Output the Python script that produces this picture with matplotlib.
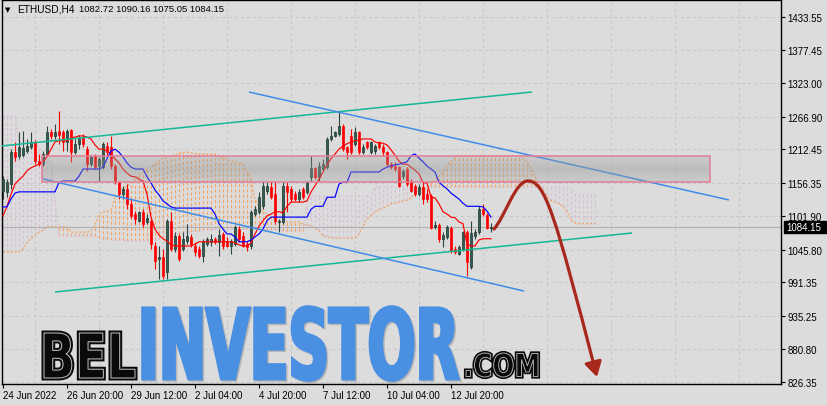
import numpy as np
import matplotlib
matplotlib.use('Agg')
import matplotlib.pyplot as plt
from matplotlib.path import Path
from matplotlib.patches import PathPatch, FancyArrowPatch, Rectangle
from matplotlib.textpath import TextPath
from matplotlib.font_manager import FontProperties
from matplotlib.transforms import Affine2D, IdentityTransform

# ---------------- data ----------------
symbol_header = "ETHUSD,H4"
header_ohlc = "1082.72 1090.16 1075.05 1084.15"
last_price = 1084.15

opens = [1143,1142,1155,1208,1202,1203,1210,1217,1225,1193,
         1188,1205,1242,1235,1243,1242,1225,1245,1208,1222,
         1232,1213,1188,1202,1185,1183,1218,1217,1185,1158,
         1138,1147,1122,1105,1094,1109,1092,1094,1052,1030,
         1034,1009,1094,1047,1069,1047,1060,1067,1052,1047,
         1035,1055,1059,1064,1059,1072,1060,1052,1055,1080,
         1069,1055,1052,1105,1109,1118,1143,1150,1138,1092,
         1092,1152,1147,1138,1130,1147,1142,1167,1182,1167,
         1180,1183,1230,1235,1238,1252,1217,1235,1222,1242,
         1208,1225,1208,1210,1225,1217,1208,1188,1185,1183,
         1168,1180,1160,1152,1138,1150,1138,1135,1084,1087,
         1064,1067,1082,1047,1039,1047,1075,1017,1069,1075,
         1113,1104,1082.72]
highs = [1168,1163,1213,1225,1242,1243,1230,1242,1228,1205,
         1210,1252,1247,1255,1276,1245,1247,1247,1230,1237,
         1238,1218,1203,1205,1200,1225,1225,1235,1188,1160,
         1152,1155,1130,1110,1110,1113,1105,1097,1059,1052,
         1047,1097,1109,1075,1072,1075,1089,1072,1059,1052,
         1064,1067,1072,1067,1080,1075,1067,1064,1087,1085,
         1075,1060,1112,1118,1142,1160,1158,1160,1160,1097,
         1158,1158,1152,1143,1147,1150,1160,1202,1183,1192,
         1197,1233,1252,1243,1275,1255,1218,1247,1250,1243,
         1222,1227,1227,1222,1227,1222,1210,1192,1192,1185,
         1180,1183,1163,1155,1155,1160,1147,1138,1094,1090,
         1075,1087,1085,1052,1054,1077,1079,1094,1080,1118,
         1122,1107,1090.16]
lows = [1130,1133,1147,1193,1197,1200,1207,1213,1188,1185,
        1185,1202,1230,1230,1222,1210,1210,1192,1205,1213,
        1217,1177,1185,1180,1160,1180,1202,1180,1155,1130,
        1130,1113,1099,1089,1092,1084,1089,1047,1014,997,
        997,997,1044,1042,1027,1044,1055,1050,1035,1032,
        1025,1052,1052,1055,1035,1047,1050,1039,1052,1059,
        1050,1044,1047,1102,1105,1113,1138,1130,1089,1075,
        1089,1109,1125,1127,1125,1130,1138,1160,1163,1160,
        1177,1180,1227,1233,1235,1210,1197,1205,1218,1205,
        1205,1213,1205,1205,1213,1202,1185,1180,1177,1150,
        1163,1152,1142,1135,1135,1122,1125,1080,1080,1059,
        1050,1064,1040,1039,1037,1044,1002,1014,1064,1072,
        1102,1080,1075.05]
closes = [1163,1158,1208,1200,1217,1215,1218,1225,1193,1188,
          1205,1242,1235,1242,1237,1225,1243,1208,1222,1232,
          1222,1188,1200,1183,1197,1222,1208,1185,1158,1138,
          1147,1122,1102,1097,1109,1089,1099,1055,1027,1034,
          1002,1094,1047,1069,1030,1064,1069,1055,1042,1035,
          1059,1064,1064,1059,1070,1052,1052,1060,1084,1064,
          1052,1050,1109,1113,1133,1152,1152,1133,1094,1094,
          1152,1142,1130,1130,1142,1133,1158,1182,1167,1185,
          1188,1230,1235,1242,1252,1213,1208,1208,1242,1208,
          1217,1217,1225,1218,1217,1208,1188,1183,1180,1152,
          1177,1155,1143,1138,1150,1130,1130,1082,1087,1064,
          1070,1084,1044,1042,1050,1075,1025,1074,1075,1113,
          1105,1082,1084.15]

tenkan = [1102,1118,1138,1155,1162,1168,1177,1182,1185,1188,
          1192,1200,1213,1225,1227,1227,1227,1232,1233,1235,
          1235,1233,1230,1220,1213,1213,1210,1205,1197,1190,
          1180,1173,1168,1167,1163,1160,1138,1100,1080,1070,
          1064,1060,1054,1052,1052,1052,1052,1052,1055,1059,
          1059,1059,1059,1059,1059,1059,1059,1059,1057,1054,
          1052,1052,1057,1072,1085,1094,1102,1105,1109,1109,
          1107,1118,1125,1125,1125,1125,1127,1142,1152,1163,
          1175,1187,1197,1205,1213,1218,1222,1225,1227,1228,
          1230,1230,1230,1225,1223,1223,1220,1212,1203,1193,
          1188,1188,1183,1178,1172,1157,1157,1133,1132,1122,
          1109,1105,1100,1099,1092,1089,1055,1052,1052,1062,
          1064,1064,1064]
kijun = [1117,1117,1130,1140,1142,1142,1142,1142,1142,1142,
         1142,1142,1142,1142,1158,1160,1160,1160,1160,1168,
         1180,1180,1180,1180,1180,1183,1197,1210,1213,1208,
         1200,1190,1183,1180,1180,1180,1167,1157,1145,1137,
         1127,1122,1117,1115,1115,1115,1115,1115,1115,1115,
         1115,1115,1115,1105,1089,1080,1072,1072,1067,1059,
         1059,1059,1062,1067,1072,1080,1094,1100,1100,1100,
         1100,1100,1100,1100,1100,1100,1100,1113,1118,1118,
         1118,1133,1133,1133,1155,1158,1158,1175,1175,1175,
         1175,1175,1175,1175,1175,1180,1183,1185,1187,1188,
         1190,1192,1202,1205,1198,1192,1185,1180,1175,1158,
         1152,1147,1140,1135,1130,1123,1118,1118,1118,1118,
         1117,1110,1100]
senkou_a = [1042,1042,1042,1042,1042,1047,1057,1065,1070,1075,
            1079,1084,1084,1084,1084,1084,1084,1075,1075,1075,
            1075,1075,1077,1087,1104,1109,1109,1112,1132,1138,
            1147,1152,1158,1163,1170,1175,1180,1183,1188,1193,
            1197,1198,1202,1203,1207,1208,1208,1207,1205,1205,
            1205,1205,1205,1205,1202,1198,1197,1193,1192,1190,
            1188,1177,1163,1130,1118,1109,1105,1102,1099,1094,
            1092,1092,1092,1092,1092,1089,1087,1085,1082,1077,
            1069,1067,1065,1065,1065,1065,1065,1065,1065,1072,
            1084,1097,1102,1109,1112,1115,1118,1122,1123,1125,
            1127,1128,1132,1138,1145,1147,1147,1155,1162,1168,
            1175,1185,1193,1198,1202,1202,1202,1202,1202,1202,
            1202,1202,1202,1202,1202,1202,1202,1202,1202,1202,
            1197,1192,1180,1168,1155,1145,1135,1127,1125,1122,
            1118,1109,1095,1090,1089,1089,1089,1089,1089]
senkou_b = [1268,1268,1268,1268,1225,1225,1225,1225,1225,1213,
            1197,1195,1193,1130,1069,1069,1069,1069,1069,1069,
            1069,1069,1069,1069,1065,1064,1064,1062,1062,1062,
            1062,1060,1060,1060,1060,1060,1060,1060,1062,1064,
            1065,1067,1069,1070,1072,1074,1075,1075,1077,1077,
            1079,1079,1079,1080,1080,1080,1080,1080,1080,1080,
            1080,1080,1080,1080,1080,1079,1079,1079,1079,1079,
            1077,1077,1077,1077,1077,1077,1122,1135,1135,1135,
            1135,1135,1135,1135,1135,1135,1135,1135,1135,1135,
            1135,1135,1135,1150,1150,1150,1150,1150,1150,1150,
            1150,1150,1150,1150,1150,1150,1150,1150,1150,1150,
            1150,1150,1150,1150,1150,1150,1150,1150,1150,1150,
            1150,1150,1150,1150,1150,1150,1150,1150,1150,1150,
            1150,1150,1150,1150,1150,1150,1150,1150,1150,1150,
            1150,1150,1147,1138,1138,1138,1138,1138,1138]

xtick_pos = [0, 16, 32, 48, 64, 80, 96, 112]
xtick_labels = ["24 Jun 2022", "26 Jun 20:00", "29 Jun 12:00", "2 Jul 04:00",
                "4 Jul 20:00", "7 Jul 12:00", "10 Jul 04:00", "12 Jul 20:00"]
ytick_vals = [1433.55, 1377.45, 1323.00, 1266.90, 1212.45, 1156.35,
              1101.90, 1045.80, 991.35, 935.25, 880.80, 826.35]
ytick_labels = ["1433.55", "1377.45", "1323.00", "1266.90", "1212.45", "1156.35",
                "1101.90", "1045.80", "991.35", "935.25", "880.80", "826.35"]

zone_left, zone_right, zone_low, zone_high = 9.75, 176.75, 1159.0, 1202.0
teal_upper = [(-0.75, 1218.0), (132.25, 1308.0)]
teal_lower = [(13.0, 975.5), (157.25, 1073.6)]
blue_upper = [(61.5, 1308.0), (181.5, 1128.5)]
blue_lower = [(10.0, 1163.4), (130.25, 977.1)]
forecast_path = [(122.75, 1080.2), (125.5, 1100.2), (128.0, 1160.1), (131.25, 1160.1),
                 (135.5, 1160.1), (138.0, 1105.2), (148.5, 834.1)]

# ---------------- figure ----------------
W, H, DPI = 828, 406, 100
BG = '#dcdcdc'
plt.rcParams['lines.scale_dashes'] = False
plt.rcParams['font.family'] = ['Liberation Sans', 'DejaVu Sans']

fig = plt.figure(figsize=(W / DPI, H / DPI), dpi=DPI, facecolor=BG)
L, R, T, B = 2, 781, 1, 385
ax = fig.add_axes([L / W, (H - B) / H, (R - L) / W, (B - T) / H])
ax.set_facecolor(BG)

# grid
grid_ls = (0, (2.2, 2.2))
for v in ytick_vals:
    ax.axhline(v, color='#c6c6c6', lw=0.7, ls=grid_ls, zorder=0.5)
for k in range(12):
    ax.axvline(8 + 16 * k, color='#c6c6c6', lw=0.7, ls=grid_ls, zorder=0.5)

# cloud
ia = np.arange(len(senkou_a))
sa = np.array(senkou_a, float)
sb = np.array(senkou_b, float)
upc = sa >= sb
ax.vlines(ia[upc], np.minimum(sa, sb)[upc], np.maximum(sa, sb)[upc],
          colors='#f4a460', lw=0.8, linestyles=(0, (2.2, 1.6)), zorder=1)
ax.vlines(ia[~upc], np.minimum(sa, sb)[~upc], np.maximum(sa, sb)[~upc],
          colors='#d8bfd8', lw=0.8, linestyles=(0, (2.2, 1.6)), zorder=1)
ax.plot(ia, sa, color='#f4a460', lw=0.9, ls=(0, (1.4, 1.4)), zorder=1.5)
ax.plot(ia, sb, color='#d8bfd8', lw=0.9, ls=(0, (1.4, 1.4)), zorder=1.5)

# last price line
ax.axhline(last_price, color='#b0b0b0', lw=0.8, zorder=2)

# candles
o = np.array(opens, float); h = np.array(highs, float)
l = np.array(lows, float); c = np.array(closes, float)
x = np.arange(len(o))
up = c >= o
ax.vlines(x[up], l[up], h[up], colors='#2c4640', lw=0.8, zorder=3)
ax.vlines(x[~up], l[~up], h[~up], colors='#ff0000', lw=0.8, zorder=3)
bb = np.minimum(o, c)
bh = np.maximum(np.abs(c - o), 0.8)
ax.bar(x[up], bh[up], bottom=bb[up], width=0.6, color='#2f5f4f',
       edgecolor='#1f332d', lw=0.5, zorder=4)
ax.bar(x[~up], bh[~up], bottom=bb[~up], width=0.6, color='#ff0000',
       edgecolor='#ff0000', lw=0.5, zorder=4)

# tenkan / kijun
ax.plot(x, tenkan, color='#ff0000', lw=0.85, zorder=5)
ax.plot(x, kijun, color='#0000ff', lw=0.85, zorder=5)

# trend lines
for seg, col in [(teal_upper, '#14b796'), (teal_lower, '#14b796'),
                 (blue_upper, '#3f8de8'), (blue_lower, '#3f8de8')]:
    ax.plot([seg[0][0], seg[1][0]], [seg[0][1], seg[1][1]], color=col, lw=1.1,
            zorder=6, solid_capstyle='butt')

# resistance zone
n = 60
g = np.linspace(0, 1, n)
alpha = 0.26 + 0.2 * (1 - np.abs(g - 0.5) * 2)
rgba = np.zeros((n, 1, 4))
rgba[..., :3] = 0.6
rgba[:, 0, 3] = alpha
ax.imshow(rgba, extent=[zone_left, zone_right, zone_low, zone_high],
          aspect='auto', interpolation='bilinear', zorder=7, origin='lower')
ax.add_patch(Rectangle((zone_left, zone_low), zone_right - zone_left, zone_high - zone_low,
                       fill=False, edgecolor='#e27e98', lw=1.1, zorder=8))

# forecast arrow
codes = [Path.MOVETO] + [Path.CURVE4] * 6
arrow = FancyArrowPatch(path=Path(forecast_path, codes),
                        arrowstyle='-|>,head_length=0.55,head_width=0.32',
                        mutation_scale=16, color='#a8281e', lw=2.3, zorder=9,
                        shrinkA=0, shrinkB=0)
ax.add_patch(arrow)

ax.set_xlim(-0.25, 194.5)
ax.set_ylim(822.5, 1461.0)

# axes styling
for s in ax.spines.values():
    s.set_color('black'); s.set_linewidth(1.0)
ax.yaxis.tick_right()
ax.set_yticks(ytick_vals)
ax.set_yticklabels(ytick_labels)
ax.tick_params(axis='y', direction='out', length=3, width=0.8, pad=1.8,
               labelsize=7, colors='black')
ax.set_xticks(xtick_pos)
ax.set_xticklabels(xtick_labels)
ax.tick_params(axis='x', direction='out', length=3, width=0.8, pad=1.2,
               labelsize=7, colors='black')
for t in ax.get_xticklabels():
    t.set_ha('left')

# header
fig.text(5 / W, 1 - 10 / H, '\u25BC', fontsize=5, family='DejaVu Sans', va='center')
fig.text(17 / W, 1 - 10 / H, symbol_header, fontsize=7.3, va='center')
fig.text(79 / W, 1 - 10 / H, header_ohlc, fontsize=6.8, va='center')

# current price box
fig.canvas.draw()
yd = ax.transData.transform((0, last_price))[1]
fig.add_artist(Rectangle((784, yd - 6), 42, 12, transform=IdentityTransform(),
                         facecolor='black', edgecolor='black', zorder=30))
fig.text(786 / W, yd / H, f"{last_price:.2f}", color='white', fontsize=7,
         va='center', ha='left', zorder=31)

# watermark
prop_bold = FontProperties(family='DejaVu Sans', weight='bold')

def fit_text(s, box, prop):
    tp = TextPath((0, 0), s, size=100, prop=prop)
    ext = tp.get_extents()
    x0, yt, x1, yb = box
    tr = (Affine2D().translate(-ext.x0, -ext.y0)
          .scale((x1 - x0) / ext.width, (yb - yt) / ext.height)
          .translate(x0, H - yb))
    return tr.transform_path(tp)

def add_path(p, dx=0, dy=0, **kw):
    pp = Affine2D().translate(dx, dy).transform_path(p)
    fig.add_artist(PathPatch(pp, transform=IdentityTransform(), **kw))

p_bel = fit_text("BEL", (44, 334, 135, 379), prop_bold)
add_path(p_bel, facecolor='#0a0a0a', edgecolor='#0a0a0a', lw=3.6,
         joinstyle='miter', zorder=40)
add_path(p_bel, facecolor='none', edgecolor='#c4c4c4', lw=0.7, zorder=41)

p_inv = fit_text("INVESTOR", (143, 308, 458, 381), prop_bold)
add_path(p_inv, dx=1.5, dy=-1.5, facecolor=(0, 0, 0, 0.16),
         edgecolor=(0, 0, 0, 0.16), lw=2.6, zorder=40)
add_path(p_inv, facecolor='#4a90e2', edgecolor='#4a90e2', lw=2.6,
         joinstyle='miter', zorder=41)

p_com = fit_text(".COM", (466, 354, 538, 378), prop_bold)
add_path(p_com, facecolor='#0a0a0a', edgecolor='#0a0a0a', lw=3.0,
         joinstyle='miter', zorder=40)
add_path(p_com, facecolor='none', edgecolor='#c4c4c4', lw=0.6, zorder=41)

fig.savefig('out.png', dpi=DPI, facecolor=BG)
